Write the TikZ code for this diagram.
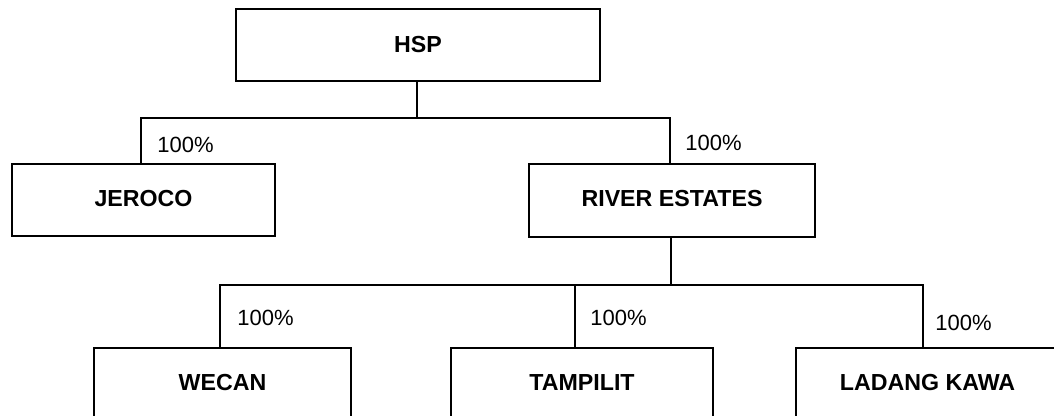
\documentclass[tikz,border=0pt]{standalone}
\usepackage{fontspec}
\setmainfont{Liberation Sans}
\begin{document}
\begin{tikzpicture}[x=0.5pt,y=-0.5pt,
  box/.style={draw, line width=0.8pt, rectangle, inner sep=0pt, font=\fontsize{11.6pt}{13pt}\selectfont\bfseries},
  pct/.style={anchor=west, inner sep=0pt, font=\fontsize{11pt}{13pt}\selectfont},
  conn/.style={line width=0.8pt}]
\useasboundingbox (0,0) rectangle (1054,416);
\clip (0,0) rectangle (1054,416);
\node[box, minimum width=182pt, minimum height=36pt] (hsp) at (418,45) {\raisebox{1pt}{HSP}};
\node[box, minimum width=131.5pt, minimum height=36pt] (jeroco) at (143.5,200) {\raisebox{2pt}{JEROCO}};
\node[box, minimum width=143pt, minimum height=36.5pt] (river) at (672,200.5) {\raisebox{2pt}{RIVER ESTATES}};
\node[box, minimum width=128.5pt, minimum height=36pt] (wecan) at (222.5,384) {\raisebox{1.5pt}{WECAN}};
\node[box, minimum width=131pt, minimum height=36pt] (tamp) at (582,384) {\raisebox{1.5pt}{TAMPILIT}};
\node[box, minimum width=131.5pt, minimum height=36pt] (ladang) at (927.5,384) {\raisebox{1.5pt}{LADANG KAWA}};
\coordinate (j1) at (417,118);
\coordinate (j2) at (671,285);
\draw[conn] ([xshift=-0.5pt]hsp.south) -- (j1);
\draw[conn] ([xshift=-1.25pt]jeroco.north) |- (j1) -| ([xshift=-1pt]river.north);
\draw[conn] ([xshift=-0.5pt]river.south) -- (j2);
\draw[conn] ([xshift=-1.25pt]wecan.north) |- (j2) -| ([xshift=-2.25pt]ladang.north);
\draw[conn] ([xshift=-3.5pt]tamp.north) |- (j2);
\node[pct] (p1) at (157,145) {100\%};
\node[pct] (p2) at (685,143) {100\%};
\node[pct] (p3) at (237,318) {100\%};
\node[pct] (p4) at (590,318) {100\%};
\node[pct] (p5) at (935,323) {100\%};
\end{tikzpicture}
\end{document}
